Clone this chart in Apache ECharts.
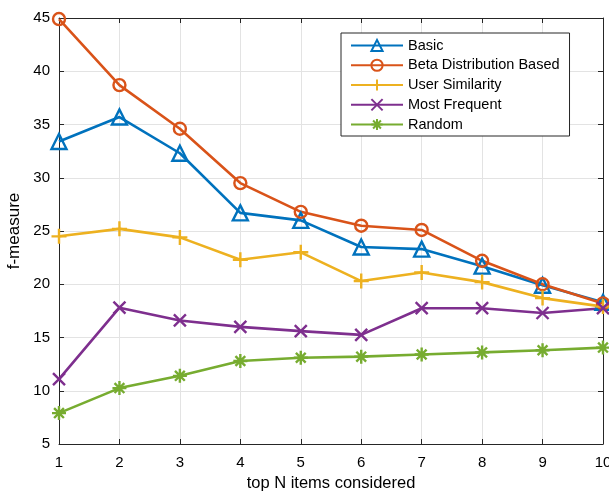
<!DOCTYPE html>
<html>
<head>
<meta charset="utf-8">
<script src="https://cdn.jsdelivr.net/npm/echarts@6/dist/echarts.min.js"></script>
<style>
  html, body { margin: 0; padding: 0; background: #fff; }
  #chart { width: 609px; height: 496px; }
</style>
</head>
<body>
<div id="chart"></div>
<script>
// data
const topN = [1, 2, 3, 4, 5, 6, 7, 8, 9, 10];
const basic = [33.4, 35.7, 32.3, 26.7, 26.0, 23.5, 23.3, 21.7, 19.9, 18.3];
const betaBased = [44.9, 38.7, 34.6, 29.5, 26.8, 25.5, 25.1, 22.2, 20.0, 18.2];
const userSimilarity = [24.5, 25.2, 24.4, 22.3, 23.0, 20.3, 21.1, 20.2, 18.7, 17.9];
const mostFrequent = [11.1, 17.8, 16.6, 16.0, 15.6, 15.25, 17.75, 17.75, 17.3, 17.75];
const random = [7.9, 10.25, 11.4, 12.8, 13.1, 13.2, 13.4, 13.6, 13.8, 14.05];

const font = 'Liberation Sans, Helvetica, Arial, sans-serif';
const axisColor = '#262626';

const plusPath = 'path://M5,0L5,10M0,5L10,5';
const crossPath = 'path://M0,0L10,10M10,0L0,10';
const starPath = 'path://M5,0L5,10M0,5L10,5M1.5,1.5L8.5,8.5M8.5,1.5L1.5,8.5';

function mkSeries(name, values, color, symbol, size) {
    return {
        name: name,
        type: 'line',
        data: topN.map((x, i) => [x, values[i]]),
        symbol: symbol,
        symbolSize: size,
        showAllSymbol: true,
        lineStyle: { color: color, width: 2.6 },
        itemStyle: { color: 'transparent', borderColor: color, borderWidth: 2.4 },
        emphasis: { disabled: true },
        animation: false
    };
}

let chart = echarts.init(document.getElementById('chart'));

let option = {
    animation: false,
    textStyle: { fontFamily: font },
    grid: { left: 59, right: 6, top: 18, bottom: 52, outerBoundsMode: 'none', containLabel: false },
    legend: {
        orient: 'vertical',
        left: 341,
        top: 33,
        padding: [5, 10, 4, 9],
        itemWidth: 52,
        itemHeight: 14,
        itemGap: 4.75,
        backgroundColor: '#fff',
        borderColor: axisColor,
        borderWidth: 1,
        borderRadius: 0,
        textStyle: { fontSize: 14.5, color: '#000', fontFamily: font },
        data: ['Basic', 'Beta Distribution Based', 'User Similarity', 'Most Frequent', 'Random']
    },
    xAxis: [{
        type: 'value',
        min: 1, max: 10, interval: 1,
        name: 'top N items considered',
        nameLocation: 'middle',
        nameGap: 29,
        nameTextStyle: { fontSize: 16.5, color: '#000', fontFamily: font },
        axisLine: { onZero: false, lineStyle: { color: axisColor, width: 1 } },
        axisTick: { inside: true, length: 5, lineStyle: { color: axisColor } },
        axisLabel: { fontSize: 15, color: '#000', margin: 11, fontFamily: font },
        splitLine: { show: true, lineStyle: { color: '#e3e3e3', width: 1 } }
    }, {
        type: 'value', position: 'top',
        min: 1, max: 10, interval: 1,
        axisLine: { onZero: false, lineStyle: { color: axisColor, width: 1 } },
        axisTick: { inside: true, length: 5, lineStyle: { color: axisColor } },
        axisLabel: { show: false },
        splitLine: { show: false }
    }],
    yAxis: [{
        type: 'value',
        min: 5, max: 45, interval: 5,
        name: 'f-measure',
        nameLocation: 'middle',
        nameGap: 33,
        nameTextStyle: { fontSize: 17, color: '#000', fontFamily: font },
        axisLine: { show: true, onZero: false, lineStyle: { color: axisColor, width: 1 } },
        axisTick: { show: true, inside: true, length: 5, lineStyle: { color: axisColor } },
        axisLabel: { fontSize: 15, color: '#000', margin: 9, fontFamily: font },
        splitLine: { show: true, lineStyle: { color: '#e3e3e3', width: 1 } }
    }, {
        type: 'value', position: 'right',
        min: 5, max: 45, interval: 5,
        axisLine: { show: true, onZero: false, lineStyle: { color: axisColor, width: 1 } },
        axisTick: { show: true, inside: true, length: 5, lineStyle: { color: axisColor } },
        axisLabel: { show: false },
        splitLine: { show: false }
    }],
    series: [
        mkSeries('Basic', basic, '#0072BD', 'triangle', 15),
        mkSeries('Beta Distribution Based', betaBased, '#D95319', 'circle', 12),
        mkSeries('User Similarity', userSimilarity, '#EDB120', plusPath, 15),
        mkSeries('Most Frequent', mostFrequent, '#7E2F8E', crossPath, 12),
        mkSeries('Random', random, '#77AC30', starPath, 14)
    ]
};

chart.setOption(option);
</script>
</body>
</html>
